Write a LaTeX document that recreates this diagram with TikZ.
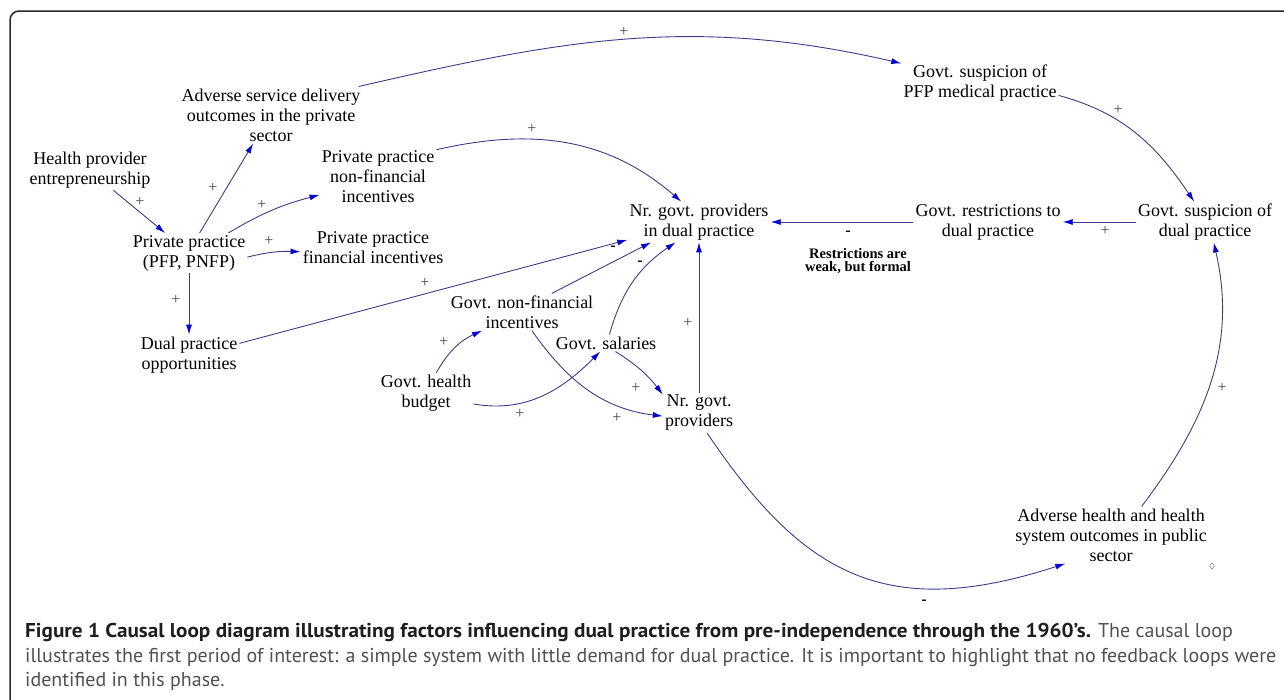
\documentclass[tikz,border=0pt]{standalone}
\usepackage{fontspec}
\setmainfont{Liberation Serif}
\newfontfamily\capfont{PT Sans}[BoldFeatures={FakeStretch=1.06}]
\usetikzlibrary{arrows.meta,shapes.geometric}
\definecolor{linkcol}{RGB}{60,60,140}
\definecolor{tipcol}{RGB}{0,0,215}
\definecolor{polgray}{RGB}{70,70,70}
\definecolor{framecol}{RGB}{40,40,40}
\definecolor{capgray}{RGB}{80,80,80}
\definecolor{capbold}{RGB}{30,30,30}
\tikzset{
  lbl/.style={font=\fontsize{18}{20}\selectfont, align=center, inner sep=2pt, text=black},
  pol/.style={font=\fontsize{16}{16}\selectfont, text=polgray, inner sep=0pt},
  neg/.style={font=\bfseries\fontsize{16}{16}\selectfont, text=black, inner sep=0pt},
  restr/.style={font=\bfseries\fontsize{14.5}{13}\selectfont, align=center, inner sep=0pt},
  lnk/.style={draw=linkcol, line width=0.9pt, -{Latex[length=10pt,width=6pt,color=tipcol]}},
  capline/.style={font=\capfont\fontsize{20}{25}\selectfont, text=capgray, inner sep=0pt, anchor=base west},
}
\begin{document}
\begin{tikzpicture}[x=1pt,y=1pt]
\useasboundingbox (0,0) rectangle (1284,-699);
\clip (0,0) rectangle (1284,-699);
\draw[framecol, line width=1.5pt, rounded corners=9pt] (10,-11) rectangle (1310,-730);

% variables
\node[lbl] (hpe) at (90,-170) {Health provider\\entrepreneurship};
\node[lbl] (asd) at (271,-115) {Adverse service delivery\\outcomes in the private\\sector};
\node[lbl] (ppnf) at (378,-177) {Private practice\\non-financial\\incentives};
\node[lbl] (ppfp) at (189,-253) {Private practice\\(PFP, PNFP)};
\node[lbl] (ppfi) at (373,-248) {Private practice\\financial incentives};
\node[lbl] (dpo) at (189,-355) {Dual practice\\opportunities};
\node[lbl] (ndp) at (699,-222) {Nr. govt. providers\\in dual practice};
\node[lbl] (gr) at (988,-222) {Govt. restrictions to\\dual practice};
\node[lbl] (gsd) at (1205,-222) {Govt. suspicion of\\dual practice};
\node[lbl] (gsp) at (980,-83) {Govt. suspicion of\\PFP medical practice};
\node[lbl] (gnf) at (522,-312) {Govt. non-financial\\incentives};
\node[lbl] (gs) at (606,-343) {Govt. salaries};
\node[lbl] (ghb) at (426,-393) {Govt. health\\budget};
\node[lbl] (ngp) at (699,-413) {Nr. govt.\\providers};
\node[lbl] (ahs) at (1111,-535) {Adverse health and health\\system outcomes in public\\sector};
\node[restr] (rw) at (858,-261) {Restrictions are\\weak, but formal};
\node[draw=gray, diamond, inner sep=0pt, minimum width=5pt, minimum height=6.5pt, line width=0.5pt] (dm) at (1212,-566) {};

% links
\draw[lnk] (hpe.-41) -- (ppfp.140);
\draw[lnk] (ppfp.62) -- (asd.-122);
\draw[lnk] (ppfp.27) to[bend left=8] (ppnf.-163);
\draw[lnk] (ppfp.-4) to[bend left=8] (ppfi.-177);
\draw[lnk] (ppfp.south) -- (dpo.north);
\draw[lnk] (dpo.13) -- (ndp.-166);
\draw[lnk] (gnf.32) -- (ndp.-157);
\draw[lnk] (gs.68) to[bend left=20] (ndp.-139);
\draw[lnk] (ghb.63) to[bend left=18] (gnf.-155);
\draw[lnk] (ghb.-13) to[out=-10,in=-135] (gs.-124);
\draw[lnk] (gnf.-62) to[out=-55,in=173] (ngp.-175);
\draw[lnk] (gs.-42) to[bend left=10] (ngp.153);
\draw[lnk] (ngp.north) -- (ndp.south);
\draw[lnk] (ppnf.25) to[out=13,in=139] (ndp.131);
\draw[lnk] (asd.18) to[out=13,in=167] (gsp.166);
\draw[lnk] (gsp.-9) to[out=-15,in=124] (gsd.118);
\draw[lnk] (gsd.west) -- (gr.east);
\draw[lnk] (gr.west) -- (ndp.east);
\draw[lnk] (ngp.-68) to[out=-56,in=-162,out distance=170pt,in distance=190pt] (ahs.-148);
\draw[lnk] (ahs.43) to[out=53,in=-77,out distance=100pt,in distance=110pt] (gsd.-67);

% polarities
\node[pol] (p1) at (140,-202) {+};
\node[pol] (p2) at (213,-188) {+};
\node[pol] (p3) at (262,-205) {+};
\node[pol] (p4) at (269,-241) {+};
\node[pol] (p5) at (176,-300) {+};
\node[pol] (p6) at (425,-283) {+};
\node[neg] (p7) at (613,-248) {-};
\node[neg] (p8) at (640,-263) {-};
\node[pol] (p9) at (444,-342) {+};
\node[pol] (p10) at (520,-414) {+};
\node[pol] (p11) at (617,-418) {+};
\node[pol] (p12) at (636,-388) {+};
\node[pol] (p13) at (688,-323) {+};
\node[pol] (p14) at (532,-129) {+};
\node[pol] (p15) at (624,-32) {+};
\node[pol] (p16) at (1118,-110) {+};
\node[pol] (p17) at (1105,-231) {+};
\node[neg] (p18) at (848,-233) {-};
\node[neg] (p19) at (924,-602) {-};
\node[pol] (p20) at (1222,-388) {+};

% caption
\node[capline] (cap1) at (25,-637) {{\color{capbold}\bfseries Figure 1 Causal loop diagram illustrating factors influencing dual practice from pre-independence through the 1960’s.} The causal loop};
\node[capline] (cap2) at (25,-662) {illustrates the first period of interest: a simple system with little demand for dual practice. It is important to highlight that no feedback loops were};
\node[capline] (cap3) at (25,-686) {identified in this phase.};
\end{tikzpicture}
\end{document}
